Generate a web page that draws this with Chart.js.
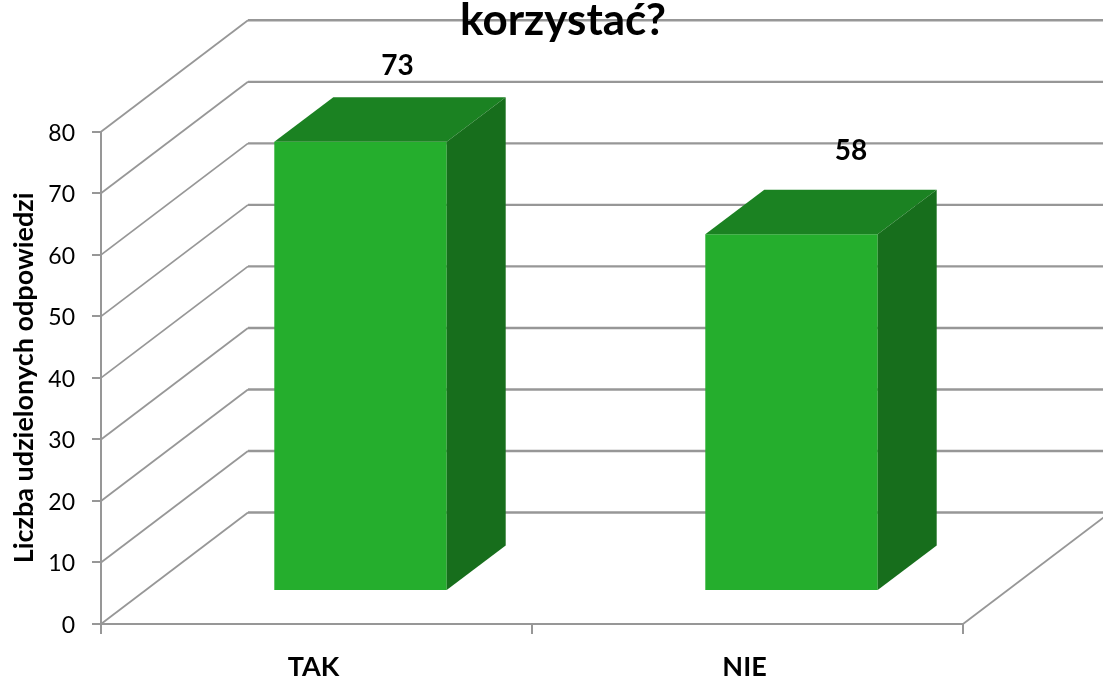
<!DOCTYPE html>
<html>
<head>
<meta charset="utf-8">
<style>html,body{margin:0;padding:0;background:#fff}#w{position:relative;width:1103px;height:677px;overflow:hidden}</style>
<script src="https://cdn.jsdelivr.net/npm/chart.js@4"></script>
</head>
<body>
<div id="w"><canvas id="c" width="1103" height="677"></canvas></div>
<script>
const categories = ['TAK', 'NIE'];
const answers = [73, 58];
const titleText = 'korzystać?';
const yAxisTitle = 'Liczba udzielonych odpowiedzi';
const yTicks = [0, 10, 20, 30, 40, 50, 60, 70, 80];

const FONT = 'Lato, "Open Sans", sans-serif';
const GRID = '#979797';
const FRONT = '#25AE2D', TOP = '#1B8222', SIDE = '#176E1C';
// oblique projection of the 3D box
const WALL = {dx: 147, dy: -111.5};    // depth of the whole plot
const BAR_SHIFT = {dx: 44, dy: -33};   // where the bars sit inside that depth
const BAR_DEPTH = {dx: 59, dy: -44.5}; // depth of each bar
const LABEL_SHIFT = [{dx: 37, dy: -76}, {dx: 59.5, dy: -83}];

const box3d = {
  id: 'box3d',
  beforeDraw(chart) {
    const {ctx, scales: {x, y}} = chart;
    ctx.save();
    ctx.strokeStyle = GRID;
    yTicks.forEach(v => {
      const py = y.getPixelForValue(v);
      ctx.lineWidth = 1.8;
      ctx.beginPath();
      ctx.moveTo(x.left, py);
      ctx.lineTo(x.left + WALL.dx, py + WALL.dy);
      ctx.stroke();
      ctx.lineWidth = 2.4;
      ctx.beginPath();
      ctx.moveTo(x.left + WALL.dx, py + WALL.dy);
      ctx.lineTo(x.right + WALL.dx, py + WALL.dy);
      ctx.stroke();
    });
    ctx.lineWidth = 1.8;
    ctx.beginPath();
    ctx.moveTo(x.right, y.bottom);
    ctx.lineTo(x.right + WALL.dx, y.bottom + WALL.dy);
    ctx.stroke();
    ctx.restore();
  },
  beforeDatasetDraw(chart) {
    chart.ctx.save();
    chart.ctx.translate(BAR_SHIFT.dx, BAR_SHIFT.dy);
  },
  afterDatasetDraw(chart, args) {
    const {ctx} = chart;
    ctx.restore();
    const d = BAR_DEPTH;
    args.meta.data.forEach(b => {
      const l = b.x - b.width / 2 + BAR_SHIFT.dx, r = b.x + b.width / 2 + BAR_SHIFT.dx;
      const t = b.y + BAR_SHIFT.dy, bt = b.base + BAR_SHIFT.dy;
      ctx.fillStyle = TOP;
      ctx.beginPath();
      ctx.moveTo(l, t); ctx.lineTo(l + d.dx, t + d.dy); ctx.lineTo(r + d.dx, t + d.dy); ctx.lineTo(r, t);
      ctx.closePath(); ctx.fill();
      ctx.fillStyle = SIDE;
      ctx.beginPath();
      ctx.moveTo(r, t); ctx.lineTo(r + d.dx, t + d.dy); ctx.lineTo(r + d.dx, bt + d.dy); ctx.lineTo(r, bt);
      ctx.closePath(); ctx.fill();
    });
  },
  afterDatasetsDraw(chart) {
    const {ctx} = chart;
    const meta = chart.getDatasetMeta(0);
    ctx.save();
    ctx.fillStyle = '#000';
    ctx.font = 'bold 28px ' + FONT;
    ctx.textAlign = 'center';
    ctx.textBaseline = 'middle';
    meta.data.forEach((b, i) => {
      ctx.fillText(String(answers[i]),
        b.x + BAR_SHIFT.dx + LABEL_SHIFT[i].dx,
        b.y + BAR_SHIFT.dy + LABEL_SHIFT[i].dy);
    });
    ctx.restore();
  },
  afterLayout(chart) {
    // the title is centred on the plot plus its depth and sits close to the top edge
    chart.titleBlock.left += 81.5;
    chart.titleBlock.right += 81.5;
    chart.titleBlock.top -= 6;
  }
};

new Chart(document.getElementById('c'), {
  type: 'bar',
  plugins: [box3d],
  data: {
    labels: categories,
    datasets: [{
      data: answers,
      backgroundColor: FRONT,
      borderWidth: 0,
      barPercentage: 0.4,
      categoryPercentage: 1
    }]
  },
  options: {
    responsive: false,
    animation: false,
    layout: {padding: {left: 0, right: 140, top: 0, bottom: 0}, autoPadding: false},
    plugins: {
      legend: {display: false},
      tooltip: {enabled: false},
      title: {
        display: true,
        text: titleText,
        color: '#000',
        font: {family: FONT, size: 44, weight: 'bold', lineHeight: 1.2},
        padding: {top: 0, bottom: 79}
      }
    },
    scales: {
      x: {
        offset: true,
        afterFit(s) { s.height = 53; },
        grid: {offset: true, drawOnChartArea: false, color: GRID, lineWidth: 2, tickLength: 10, tickColor: GRID},
        border: {color: GRID, width: 2},
        ticks: {color: '#000', font: {family: FONT, size: 27, weight: 'bold'}, padding: 17, labelOffset: -3, maxRotation: 0}
      },
      y: {
        min: 0, max: 80,
        afterFit(s) { s.width = 101; },
        afterBuildTicks(s) { s.ticks = yTicks.map(v => ({value: v})); },
        grid: {drawOnChartArea: false, color: GRID, lineWidth: 2, tickLength: 9, tickColor: GRID},
        border: {color: GRID, width: 2},
        ticks: {color: '#000', font: {family: FONT, size: 23}, padding: 17, labelOffset: 1.5},
        title: {
          display: true, text: yAxisTitle, color: '#000',
          font: {family: FONT, size: 27, weight: 'bold'}, padding: {top: 8, bottom: 0}
        }
      }
    }
  }
});
</script>
</body>
</html>
